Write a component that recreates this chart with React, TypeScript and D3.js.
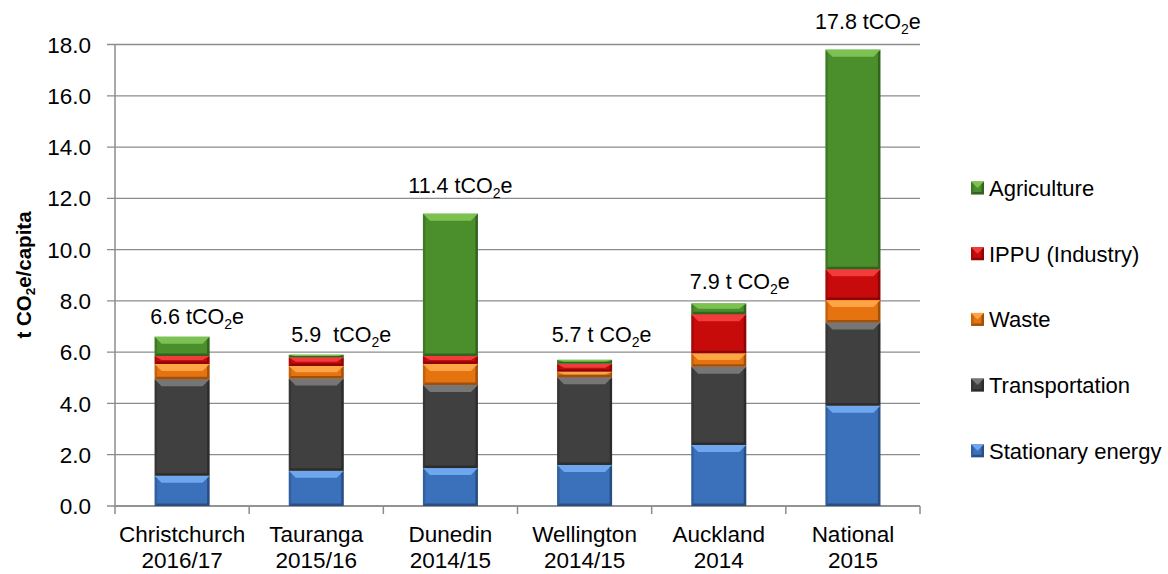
import React from "react";
import * as d3 from "d3";

// Per-capita emissions by sector (t CO2e / capita)
const categories = [
  ["Christchurch", "2016/17"],
  ["Tauranga", "2015/16"],
  ["Dunedin", "2014/15"],
  ["Wellington", "2014/15"],
  ["Auckland", "2014"],
  ["National", "2015"],
];
const sectors = ["Stationary energy", "Transportation", "Waste", "IPPU (Industry)", "Agriculture"];
const stationaryEnergy = [1.18, 1.37, 1.48, 1.6, 2.38, 3.91];
const transportation = [3.76, 3.6, 3.24, 3.42, 3.05, 3.25];
const waste = [0.6, 0.49, 0.82, 0.22, 0.53, 0.87];
const ippu = [0.31, 0.34, 0.31, 0.31, 1.52, 1.2];
const agriculture = [0.75, 0.1, 5.55, 0.15, 0.42, 8.57];
const totalLabels = ["6.6 t", "5.9  t", "11.4 t", "5.7 t ", "7.9 t ", "17.8 t"];
const yTicks = [0, 2, 4, 6, 8, 10, 12, 14, 16, 18];

// Label placement tweaks (dx from bar centre, gap above bar top)
const labelNudge = [
  [15, 13],
  [25, 13],
  [10, 21],
  [17, 18],
  [21, 14],
  [15, 21],
];

const palette: Record<string, { base: string; light: string }> = {
  "Stationary energy": { base: "#3B71BB", light: "#6EA7EE" },
  Transportation: { base: "#404040", light: "#767676" },
  Waste: { base: "#E5730F", light: "#FFA444" },
  "IPPU (Industry)": { base: "#C70A0A", light: "#F23C3C" },
  Agriculture: { base: "#4A8F2C", light: "#7CC252" },
};

const W = 1168;
const H = 574;
const left = 115;
const right = 920;
const top = 44.5;
const bottom = 506;
const FONT = "'Liberation Sans', Arial, sans-serif";

function Bevel({ x, y, w, h, color }: { x: number; y: number; w: number; h: number; color: { base: string; light: string } }) {
  const t = Math.min(7, h / 2);
  const s = Math.min(7, w / 2);
  const e = Math.min(2.5, h / 2);
  const side = 2.5;
  return (
    <g>
      <rect x={x} y={y} width={w} height={h} fill={color.base} />
      <polygon
        points={`${x},${y} ${x + w},${y} ${x + w - s},${y + t} ${x + s},${y + t}`}
        fill={color.light}
      />
      <polygon
        points={`${x},${y} ${x + side},${y + Math.min(side, h)} ${x + side},${y + h - Math.min(side, h)} ${x},${y + h}`}
        fill="#000"
        opacity={0.15}
      />
      <polygon
        points={`${x + w},${y} ${x + w - side},${y + Math.min(side, h)} ${x + w - side},${y + h - Math.min(side, h)} ${x + w},${y + h}`}
        fill="#000"
        opacity={0.3}
      />
      <polygon
        points={`${x},${y + h} ${x + e},${y + h - e} ${x + w - e},${y + h - e} ${x + w},${y + h}`}
        fill="#000"
        opacity={0.3}
      />
    </g>
  );
}

export default function App() {
  const names = categories.map((c) => c.join(" "));
  const series = [stationaryEnergy, transportation, waste, ippu, agriculture];
  const rows = names.map((n, i) => {
    const r: Record<string, number | string> = { name: n };
    sectors.forEach((s, k) => (r[s] = series[k][i]));
    return r;
  });
  const stack = d3.stack<Record<string, number | string>>().keys(sectors)(rows as any);

  const x = d3.scaleBand<string>().domain(names).range([left, right]).paddingInner(0.59).paddingOuter(0.295);
  const band = (right - left) / names.length;
  const y = d3.scaleLinear().domain([0, 18]).range([bottom, top]);

  const totals = names.map((_, i) => series.reduce((a, s) => a + s[i], 0));

  return (
    <div style={{ position: "absolute", left: 0, top: 0 }}>
      <svg width={W} height={H} style={{ display: "block", background: "#fff" }} fontFamily={FONT}>
        {/* gridlines and y ticks */}
        {yTicks.map((t) => (
          <g key={t}>
            <line x1={left - 8} x2={right} y1={y(t)} y2={y(t)} stroke="#8c8c8c" strokeWidth={1.3} />
            <text x={91} y={y(t)} dy="0.36em" textAnchor="end" fontSize={22.5} fill="#000">
              {t.toFixed(1)}
            </text>
          </g>
        ))}
        {/* y axis */}
        <line x1={left} x2={left} y1={top} y2={bottom} stroke="#8c8c8c" strokeWidth={1.5} />
        {/* x axis ticks */}
        {d3.range(names.length + 1).map((i) => (
          <line key={i} x1={left + i * band} x2={left + i * band} y1={bottom} y2={bottom + 8} stroke="#8c8c8c" strokeWidth={1.5} />
        ))}
        <line x1={left} x2={right} y1={bottom} y2={bottom} stroke="#8c8c8c" strokeWidth={1.5} />

        {/* stacked bars */}
        {stack.map((layer) => (
          <g key={layer.key}>
            {layer.map((d, i) => {
              const x0 = x(names[i])!;
              const y0 = y(d[1]);
              const h = y(d[0]) - y(d[1]);
              return <Bevel key={i} x={x0} y={y0} w={x.bandwidth()} h={h} color={palette[layer.key]} />;
            })}
          </g>
        ))}

        {/* total labels */}
        {names.map((n, i) => {
          const cx = x(n)! + x.bandwidth() / 2 + labelNudge[i][0];
          const by = y(totals[i]) - labelNudge[i][1];
          return (
            <text key={n} x={cx} y={by} textAnchor="middle" fontSize={21.5} fill="#000" xmlSpace="preserve">
              {totalLabels[i]}CO
              <tspan fontSize={14} dy={5}>2</tspan>
              <tspan dy={-5}>e</tspan>
            </text>
          );
        })}

        {/* category labels */}
        {categories.map((c, i) => {
          const cx = x(names[i])! + x.bandwidth() / 2;
          return (
            <text key={i} x={cx} textAnchor="middle" fontSize={22.5} fill="#000">
              <tspan x={cx} y={542}>{c[0]}</tspan>
              <tspan x={cx} y={568}>{c[1]}</tspan>
            </text>
          );
        })}

        {/* y axis title */}
        <text transform={`translate(31,275) rotate(-90)`} textAnchor="middle" fontSize={20.5} fontWeight="bold" fill="#000">
          t CO<tspan fontSize={13.5} dy={4}>2</tspan>
          <tspan dy={-4}>e/capita</tspan>
        </text>

        {/* legend, top to bottom: Agriculture first */}
        {sectors
          .slice()
          .reverse()
          .map((s, i) => {
            const ly = 188 + i * 65.7;
            return (
              <g key={s}>
                <Bevel x={971} y={ly - 6.5} w={13} h={13} color={palette[s]} />
                <text x={989} y={ly} dy="0.36em" fontSize={22} fill="#000">
                  {s}
                </text>
              </g>
            );
          })}
      </svg>
    </div>
  );
}
